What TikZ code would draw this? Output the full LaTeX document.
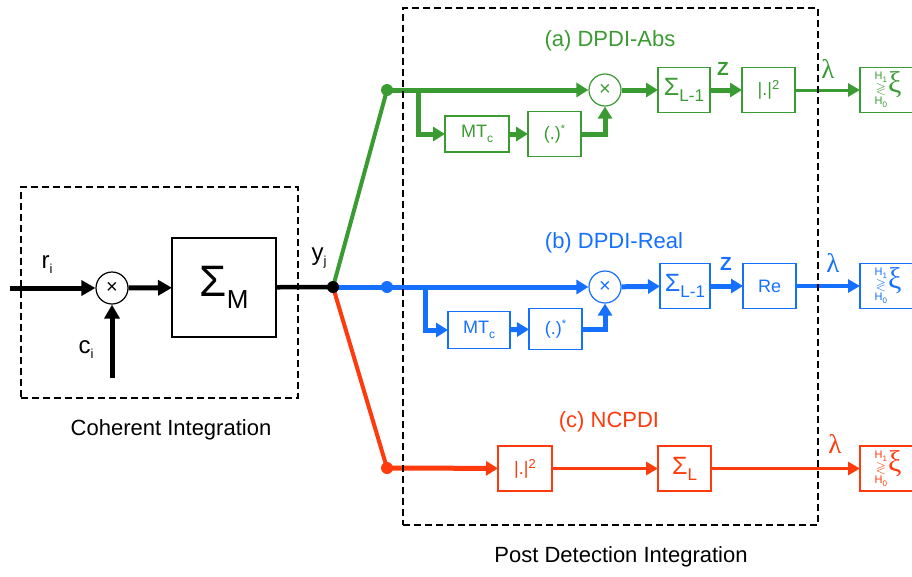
\documentclass[tikz,border=0pt]{standalone}
\usepackage{fontspec}
\usepackage{amssymb}
\setmainfont{Liberation Sans}
\newfontfamily\grk{Liberation Serif}
\usetikzlibrary{arrows.meta}
\pgfdeclarelayer{bg}
\pgfsetlayers{bg,main}
\definecolor{gC}{RGB}{58,155,50}
\definecolor{bC}{RGB}{22,112,255}
\definecolor{bD}{RGB}{25,25,215}
\definecolor{rC}{RGB}{255,58,12}
\newcommand{\fs}[1]{\fontsize{#1}{#1}\selectfont}
\newcommand{\SigL}[1]{{\fs{25}Σ}\raisebox{-6pt}{\fs{17}#1}}
\newcommand{\MTc}{{\fs{18}MT}\raisebox{-5pt}{\fs{12}c}}
\newcommand{\conj}{{\fs{18}(.)}\raisebox{7pt}{\fs{11}*}}
\newcommand{\absq}{{\fs{18}|.|}\raisebox{6pt}{\fs{13}2}}
\newcommand{\decis}{{\fs{11}\begin{tabular}{@{}c@{}}H\raisebox{-3pt}{\fs{8}1}\\[1pt]{\fs{13}$\gtrless$}\\[1pt]H\raisebox{-3pt}{\fs{8}0}\end{tabular}}\hspace{1pt}{\grk\fs{30}ξ}}
\begin{document}
\begin{tikzpicture}[x=1pt,y=-1pt,
  blk/.style={draw, line width=1.4pt, inner sep=0pt, outer sep=0pt},
  mul/.style={circle, draw, line width=1.2pt, minimum size=32pt, inner sep=0pt, font=\fs{20}},
  jdot/.style={circle, fill, inner sep=0pt, minimum size=12pt},
  thk/.style={line width=5pt, -{Triangle[length=12pt,width=14pt]}},
  med/.style={line width=3.5pt, -{Triangle[length=12pt,width=13pt]}},
  thn/.style={line width=3pt, -{Triangle[length=12pt,width=13pt]}},
  dashbox/.style={draw, line width=2.2pt, dash pattern=on 7pt off 4pt, inner sep=0pt},
  lbl/.style={font=\fs{22}},
  zl/.style={font=\fs{19}\bfseries},
  laml/.style={font=\grk\fs{27}},
  decb/.style={blk, minimum width=56pt, minimum height=45pt, anchor=west}
]
\useasboundingbox (0,0) rectangle (912,576);

% ---------- Coherent integration ----------
\node[dashbox, minimum width=277pt, minimum height=211pt] (cibox) at (159.5,292.5) {};
\node[lbl] (citxt) at (171,430) {Coherent Integration};
\coordinate (rin) at (10,288);
\node[mul] (m0) at (112,288) {×};
\coordinate (cin) at (112,378);
\node[blk, minimum width=104pt, minimum height=99pt] (sM) at (224,287.5) {{\fs{44}Σ}\raisebox{-12pt}{\fs{26}M}};
\node[jdot] (jn) at (333,287) {};
\draw[line width=5pt, -{Triangle[length=14pt,width=15pt]}] (rin) -- (m0);
\draw[line width=5pt, -{Triangle[length=14pt,width=15pt]}] (m0) -- (sM);
\draw[line width=5pt, -{Triangle[length=14pt,width=15pt]}] (cin) -- (m0);
\node[font=\fs{24}] (lr) at (47,265) {r\raisebox{-5pt}{\fs{13}i}};
\node[font=\fs{24}] (lc) at (86,350) {c\raisebox{-5pt}{\fs{13}i}};
\node[font=\fs{24}] (ly) at (319,258) {y\raisebox{-5pt}{\fs{13}j}};

% ---------- branch dots ----------
\node[jdot, gC] (gdot) at (387,90) {};
\node[jdot, bC] (bdot) at (387,287) {};
\node[jdot, rC] (rdot) at (387,468) {};
\begin{pgfonlayer}{bg}
\draw[line width=4.5pt] (sM) -- (jn.center);
\draw[gC, line width=4pt] (jn.center) -- (gdot.center);
\draw[rC, line width=4pt] (jn.center) -- (rdot.center);
\draw[bC, line width=5pt] (jn.center) -- (bdot.center);
\end{pgfonlayer}

% ---------- (a) DPDI-Abs ----------
\node[lbl, gC] (ga) at (610,41) {(a) DPDI-Abs};
\node[mul, gC] (gx) at (605,90) {×};
\node[blk, gC, minimum width=64pt, minimum height=36pt] (gmt) at (477,134) {\MTc};
\node[blk, gC, minimum width=53pt, minimum height=45pt] (gconj) at (554.5,134) {\conj};
\node[blk, gC, minimum width=52pt, minimum height=45pt] (gsum) at (684,90) {\SigL{L-1}};
\node[blk, gC, minimum width=53pt, minimum height=45pt] (gabs) at (768.5,90) {\absq};
\node[decb, gC] (gdec) at (860,90) {\decis};
\coordinate (gb) at (418,90);
\draw[gC, thk] (gdot.center) -- (gx);
\draw[gC, thk] (gb) |- (gmt);
\draw[gC, thk] (gmt) -- (gconj);
\draw[gC, thk] (gconj.east) -| (gx.south);
\draw[gC, thk] (gx) -- (gsum);
\draw[gC, thk] (gsum) -- (gabs);
\draw[gC, thn] (gabs) -- (gdec);
\node[zl, gC] (gZ) at (723,69) {Z};
\node[laml, gC] (gl) at (828,69) {λ};

% ---------- (b) DPDI-Real ----------
\node[lbl, bC] (ba) at (614,243) {(b) DPDI-Real};
\node[mul, bC] (bx) at (605,287) {×};
\node[blk, draw=bD, bC, minimum width=62pt, minimum height=37pt] (bmt) at (479,330) {\MTc};
\node[blk, bC, minimum width=53pt, minimum height=41pt] (bconj) at (555.5,329) {\conj};
\node[blk, bC, minimum width=50pt, minimum height=45pt] (bsum) at (685,286) {\SigL{L-1}};
\node[blk, bC, minimum width=53pt, minimum height=45pt] (bre) at (769.5,286) {\fs{18}Re};
\node[decb, bC] (bdec) at (860,286) {\decis};
\coordinate (bb) at (425,287);
\draw[bC, thk] (bdot.center) -- (bx);
\draw[bC, thk] (bb) |- (bmt);
\draw[bC, thk] (bmt) -- (bconj);
\draw[bC, thk] (bconj.east) -| (bx.south);
\draw[bC, thk] (bx) -- (bsum);
\draw[bC, thk] (bsum) -- (bre);
\draw[bC, med] (bre) -- (bdec);
\node[zl, bC] (bZ) at (726,264) {Z};
\node[laml, bC] (bl) at (833,263) {λ};

% ---------- (c) NCPDI ----------
\node[lbl, rC] (ra) at (609,422) {(c) NCPDI};
\node[blk, rC, minimum width=54pt, minimum height=45pt] (rabs) at (525,468.5) {\absq};
\node[blk, rC, minimum width=53pt, minimum height=45pt] (rsum) at (684.5,468.5) {\SigL{L}};
\node[decb, rC] (rdec) at (860,468.5) {\decis};
\draw[rC, thk] (rdot.center) -- (rabs);
\draw[rC, med] (rabs) -- (rsum);
\draw[rC, med] (rsum) -- (rdec);
\node[laml, rC] (rl) at (835,444) {λ};

% ---------- Post detection box ----------
\node[dashbox, minimum width=415pt, minimum height=517pt] (pdbox) at (610.5,266.5) {};
\node[lbl] (pdtxt) at (621,557) {Post Detection Integration};
\end{tikzpicture}
\end{document}
